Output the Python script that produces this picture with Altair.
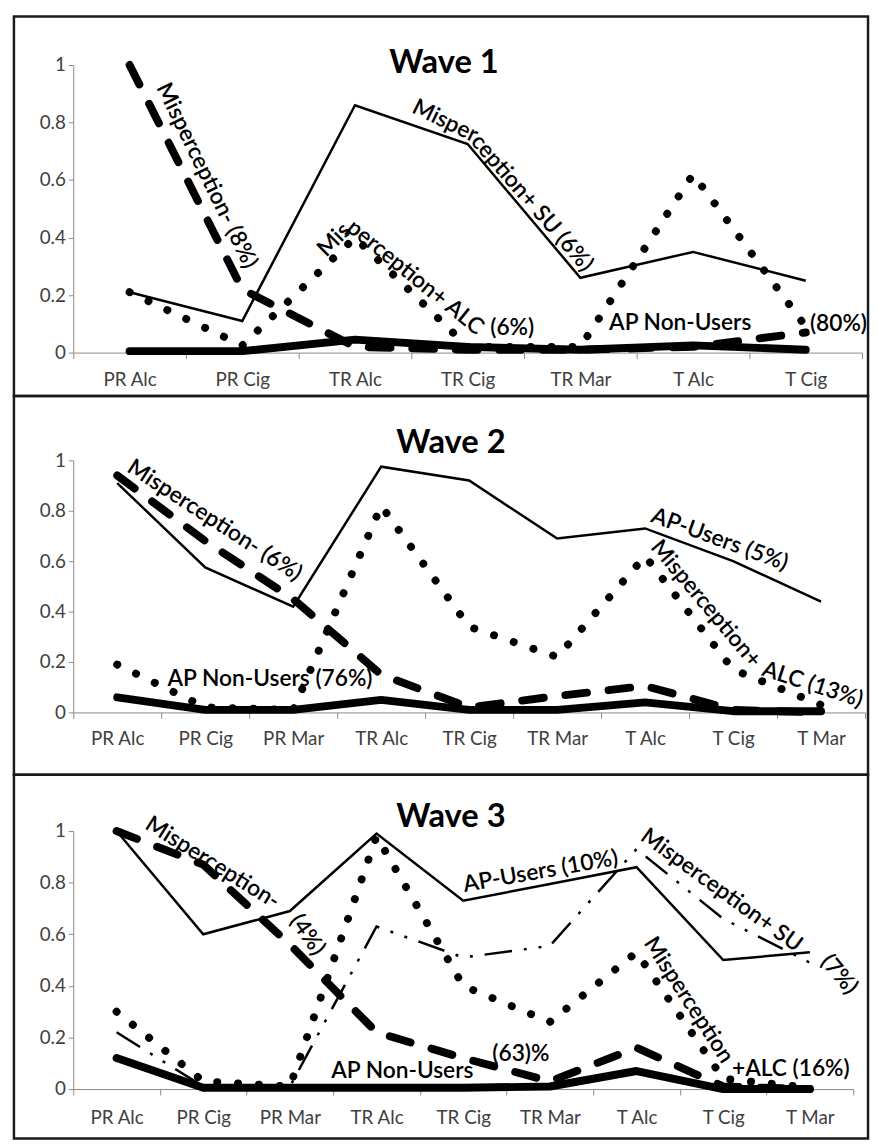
import json
import altair as alt
import pandas as pd

FONT = "Lato"
GRAY = "#8a8a8a"
LAB = "#404040"

# ---------------- data ----------------
W1_CATS = ["PR Alc", "PR Cig", "TR Alc", "TR Cig", "TR Mar", "T Alc", "T Cig"]
W1_MISP_NEG = [1.0, 0.22, 0.02, 0.01, 0.01, 0.02, 0.07]
W1_MISP_SU = [0.21, 0.11, 0.86, 0.725, 0.26, 0.35, 0.25]
W1_MISP_ALC = [0.21, 0.025, 0.40, 0.02, 0.02, 0.62, 0.09]
W1_NONUSERS = [0.005, 0.005, 0.045, 0.02, 0.01, 0.025, 0.01]

W2_CATS = ["PR Alc", "PR Cig", "PR Mar", "TR Alc", "TR Cig", "TR Mar", "T Alc", "T Cig", "T Mar"]
W2_AP_USERS = [0.91, 0.575, 0.42, 0.975, 0.92, 0.69, 0.73, 0.60, 0.44]
W2_MISP_NEG = [0.94, 0.68, 0.45, 0.15, 0.02, 0.065, 0.105, 0.01, 0.0]
W2_MISP_ALC = [0.19, 0.02, 0.01, 0.82, 0.34, 0.22, 0.62, 0.17, 0.03]
W2_NONUSERS = [0.06, 0.01, 0.01, 0.05, 0.01, 0.01, 0.04, 0.005, 0.005]

W3_CATS = ["PR Alc", "PR Cig", "PR Mar", "TR Alc", "TR Cig", "TR Mar", "T Alc", "T Cig", "T Mar"]
W3_AP_USERS = [1.0, 0.60, 0.69, 0.99, 0.73, 0.795, 0.86, 0.50, 0.53]
W3_MISP_SU = [0.22, 0.01, 0.01, 0.63, 0.51, 0.555, 0.93, 0.66, 0.49]
W3_MISP_NEG = [1.0, 0.87, 0.56, 0.22, 0.12, 0.03, 0.16, 0.01, 0.0]
W3_MISP_ALC = [0.30, 0.03, 0.01, 0.98, 0.40, 0.26, 0.53, 0.04, 0.005]
W3_NONUSERS = [0.12, 0.005, 0.005, 0.005, 0.005, 0.01, 0.07, 0.0, 0.0]

Y_TICKS = [0, 0.2, 0.4, 0.6, 0.8, 1]

# annotation labels: (text, category position, value, angle)
W1_ANN = [
    ("Misperception- (8%)", 1.184, 0.615, 64),
    ("Misper", 3.30, 0.805, 26),
    ("ception+ SU (6%)", 4.07, 0.52, 49),
    ("Mis", 2.316, 0.392, 315),
    ("perception+ ALC", 3.035, 0.261, 39),
    ("(6%)", 3.895, 0.086, 0),
    ("AP Non-Users", 5.386, 0.103, 0),
    ("(80%)", 6.79, 0.10, 0),
]
W2_ANN = [
    ("Misperception- (6%)", 1.607, 0.761, 33),
    ("AP Non-Users (76%)", 2.236, 0.133, 0),
    ("AP-Users (5%)", 7.348, 0.686, 20),
    ("Misperception+", 7.19, 0.431, 50),
    ("ALC (13%)", 8.404, 0.11, 18),
]
W3_ANN = [
    ("Misperception-", 1.608, 0.877, 32),
    ("(4%)", 2.70, 0.598, 55),
    ("AP-Users (10%)", 5.393, 0.843, 350),
    ("Misperception+ SU", 7.48, 0.77, 36),
    ("(7%)", 8.837, 0.444, 50),
    ("Misperception", 7.10, 0.345, 57),
    ("+ALC (16%)", 8.28, 0.077, 0),
    ("(63)%", 5.165, 0.134, 0),
    ("AP Non-Users", 3.797, 0.069, 0),
]

STYLES = {
    "thin": dict(color="black", strokeWidth=2.5),
    "thick": dict(color="black", strokeWidth=8, strokeCap="round", strokeJoin="round"),
    "dash": dict(color="black", strokeWidth=8, strokeCap="round", strokeDash=[22, 22]),
    "dot": dict(color="black", strokeWidth=8, strokeCap="round", strokeDash=[0.1, 21]),
    "dashdotdot": dict(color="black", strokeWidth=2.5, strokeDash=[28, 12, 3, 12, 3, 12]),
}


def panel(cats, series, ann, title, title_xy, height, y_range, x_range, x_off, lab_pad):
    n = len(cats)
    rows = []
    for name, (vals, style) in series.items():
        for i, v in enumerate(vals):
            rows.append({"x": i + 0.5, "v": v, "series": name})
    df = pd.DataFrame(rows)
    names_js = json.dumps(cats)
    x_axis = alt.Axis(
        values=[k / 2 for k in range(2 * n + 1)],
        labelExpr=f"datum.value % 1 == 0 ? '' : {names_js}[floor(datum.value)]",
        tickOpacity={"condition": {"test": "datum.value % 1 != 0", "value": 0}, "value": 1},
        offset=x_off, title=None, grid=False, domainColor=GRAY, tickColor=GRAY,
        tickSize=6, labelFont=FONT, labelFontSize=19, labelColor=LAB,
        labelPadding=lab_pad, labelFlush=False, labelOverlap=False,
    )
    y_axis = alt.Axis(
        values=Y_TICKS, format="~g", offset=-60, title=None, grid=False,
        domainColor=GRAY, tickColor=GRAY, tickSize=5, labelFont=FONT,
        labelFontSize=19, labelColor=LAB, labelPadding=3,
    )
    X = alt.X("x:Q", scale=alt.Scale(domain=[0, n], range=x_range, nice=False, zero=False), axis=x_axis)
    Y = alt.Y("v:Q", scale=alt.Scale(domain=[0, 1], range=y_range, nice=False, zero=False), axis=y_axis)
    layers = []
    for name, (vals, style) in series.items():
        layers.append(
            alt.Chart(df).transform_filter(alt.datum.series == name)
            .mark_line(**STYLES[style]).encode(x=X, y=Y)
        )
    adf = pd.DataFrame([{"t": t, "x": x, "v": v, "a": a} for t, x, v, a in ann])
    layers.append(
        alt.Chart(adf).mark_text(font=FONT, fontSize=23, fontWeight=600, color="black",
                                 align="center", baseline="middle")
        .encode(x=X, y=Y, text="t:N", angle=alt.Angle("a:Q", scale=None))
    )
    layers.append(
        alt.Chart(pd.DataFrame({"t": [title]})).mark_text(
            font=FONT, fontSize=33, fontWeight="bold", color="black", align="center", baseline="alphabetic"
        ).encode(text="t:N", x=alt.value(title_xy[0]), y=alt.value(title_xy[1]))
    )
    return alt.layer(*layers).properties(width=864, height=height)


p1 = panel(
    W1_CATS,
    {"Misperception- (8%)": (W1_MISP_NEG, "dash"),
     "Misperception+ SU (6%)": (W1_MISP_SU, "thin"),
     "Misperception+ ALC (6%)": (W1_MISP_ALC, "dot"),
     "AP Non-Users (80%)": (W1_NONUSERS, "thick")},
    W1_ANN, "Wave 1", (435, 57), 384, [340, 49], [60, 858], -44, 12,
)
p2 = panel(
    W2_CATS,
    {"AP-Users (5%)": (W2_AP_USERS, "thin"),
     "Misperception- (6%)": (W2_MISP_NEG, "dash"),
     "Misperception+ALC (13%)": (W2_MISP_ALC, "dot"),
     "AP Non-Users (76%)": (W2_NONUSERS, "thick")},
    W2_ANN, "Wave 2", (442, 58), 383, [320, 65], [60, 861], -63, 11,
)
p3 = panel(
    W3_CATS,
    {"AP-Users (10%)": (W3_AP_USERS, "thin"),
     "Misperception+ SU (7%)": (W3_MISP_SU, "dashdotdot"),
     "Misperception- (4%)": (W3_MISP_NEG, "dash"),
     "Misperception+ALC (16%)": (W3_MISP_ALC, "dot"),
     "AP Non-Users (63%)": (W3_NONUSERS, "thick")},
    W3_ANN, "Wave 3", (442, 53), 368, [318, 57], [60, 849], -50, 14,
)

chart = (
    alt.vconcat(p1, p2, p3, spacing=0, bounds="flush")
    .properties(padding={"left": 4, "top": 0, "right": 0, "bottom": 0})
    .configure_view(stroke="#1a1a1a", strokeWidth=2.5)
)

chart.save("out.html", embed_options={"renderer": "svg", "actions": False})
